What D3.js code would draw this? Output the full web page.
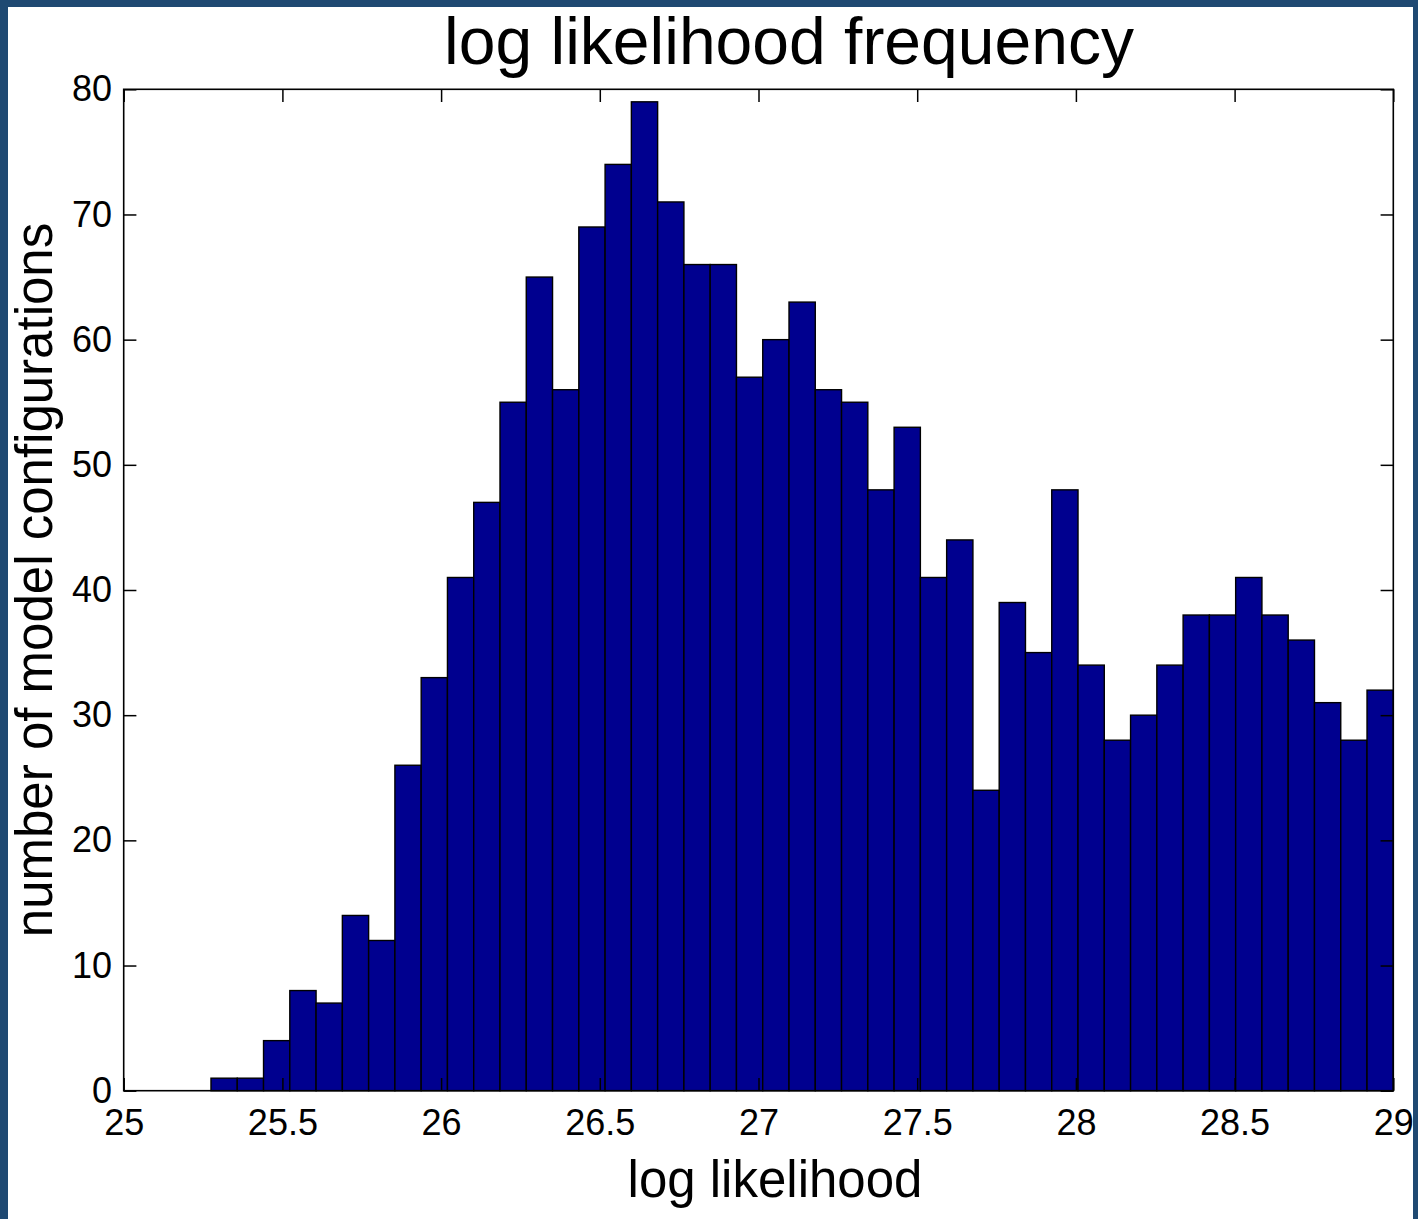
<!DOCTYPE html>
<html>
<head>
<meta charset="utf-8">
<script src="https://cdn.jsdelivr.net/npm/d3@7"></script>
<style>
  html, body { margin: 0; padding: 0; background: #fff; }
  svg { display: block; }
  text { font-family: "Liberation Sans", Arial, Helvetica, sans-serif; fill: #000; }
</style>
</head>
<body>
<svg id="chart" width="1418" height="1219"></svg>
<script>
// ---- data ----
const titleText = "log likelihood frequency";
const xLabelText = "log likelihood";
const yLabelText = "number of model configurations";
const binRange = [25.275, 29.0];          // lower edge of first bin, upper edge of last bin
const counts = [1, 1, 4, 8, 7, 14, 12, 26, 33, 41, 47, 55, 65, 56, 69, 74, 79, 71, 66, 66,
                57, 60, 63, 56, 55, 48, 53, 41, 44, 24, 39, 35, 48, 34, 28, 30, 34, 38, 38, 41,
                38, 36, 31, 28, 32];
const xTicks = [25, 25.5, 26, 26.5, 27, 27.5, 28, 28.5, 29];
const yTicks = [0, 10, 20, 30, 40, 50, 60, 70, 80];
const xDomain = [25, 29];
const yDomain = [0, 80];

// ---- layout ----
const W = 1418, H = 1219;
const plot = { left: 123.7, right: 1393.3, top: 89.3, bottom: 1090.7 };
const tickLen = 12.7;

const svg = d3.select("#chart");

// frame border (dark blue) and white canvas
svg.append("rect").attr("x", 0).attr("y", 0).attr("width", W).attr("height", H).attr("fill", "#1f4972");
svg.append("rect").attr("x", 8).attr("y", 7).attr("width", 1405).attr("height", H - 7).attr("fill", "#ffffff");

const x = d3.scaleLinear().domain(xDomain).range([plot.left, plot.right]);
const y = d3.scaleLinear().domain(yDomain).range([plot.bottom, plot.top]);

const nBins = counts.length;
const binW = (binRange[1] - binRange[0]) / nBins;
const bins = counts.map((c, i) => ({ x0: binRange[0] + i * binW, x1: binRange[0] + (i + 1) * binW, c }));

// bars
svg.append("g")
  .selectAll("rect")
  .data(bins)
  .join("rect")
  .attr("x", d => x(d.x0))
  .attr("width", d => x(d.x1) - x(d.x0))
  .attr("y", d => y(d.c))
  .attr("height", d => y(0) - y(d.c))
  .attr("fill", "#00008f")
  .attr("stroke", "#000")
  .attr("stroke-width", 1.4);

// axes
const fmt = d => String(d);
const gx = svg.append("g").attr("transform", `translate(0,${plot.bottom})`)
  .call(d3.axisBottom(x).tickValues(xTicks).tickFormat(fmt).tickSizeInner(-tickLen).tickSizeOuter(0).tickPadding(19));
const gxt = svg.append("g").attr("transform", `translate(0,${plot.top})`)
  .call(d3.axisTop(x).tickValues(xTicks).tickFormat("").tickSizeInner(-tickLen).tickSizeOuter(0));
const gy = svg.append("g").attr("transform", `translate(${plot.left},0)`)
  .call(d3.axisLeft(y).tickValues(yTicks).tickFormat(fmt).tickSizeInner(-tickLen).tickSizeOuter(0).tickPadding(11.7));
const gyr = svg.append("g").attr("transform", `translate(${plot.right},0)`)
  .call(d3.axisRight(y).tickValues(yTicks).tickFormat("").tickSizeInner(-tickLen).tickSizeOuter(0));

[gx, gxt, gy, gyr].forEach(g => {
  g.select(".domain").remove();
  g.selectAll(".tick line").attr("stroke", "#000").attr("stroke-width", 1.5);
  g.selectAll(".tick text").attr("font-size", 36).attr("fill", "#000")
    .style("font-family", '"Liberation Sans", Arial, Helvetica, sans-serif');
});

// box
svg.append("rect")
  .attr("x", plot.left).attr("y", plot.top)
  .attr("width", plot.right - plot.left).attr("height", plot.bottom - plot.top)
  .attr("fill", "none").attr("stroke", "#000").attr("stroke-width", 1.6);

// title & labels
svg.append("text").attr("x", 789).attr("y", 64).attr("text-anchor", "middle")
  .attr("font-size", 66).text(titleText);
svg.append("text").attr("x", 775).attr("y", 1197).attr("text-anchor", "middle")
  .attr("font-size", 51).text(xLabelText);
svg.append("text").attr("transform", "translate(52,580) rotate(-90)").attr("text-anchor", "middle")
  .attr("font-size", 51).text(yLabelText);
</script>
</body>
</html>
